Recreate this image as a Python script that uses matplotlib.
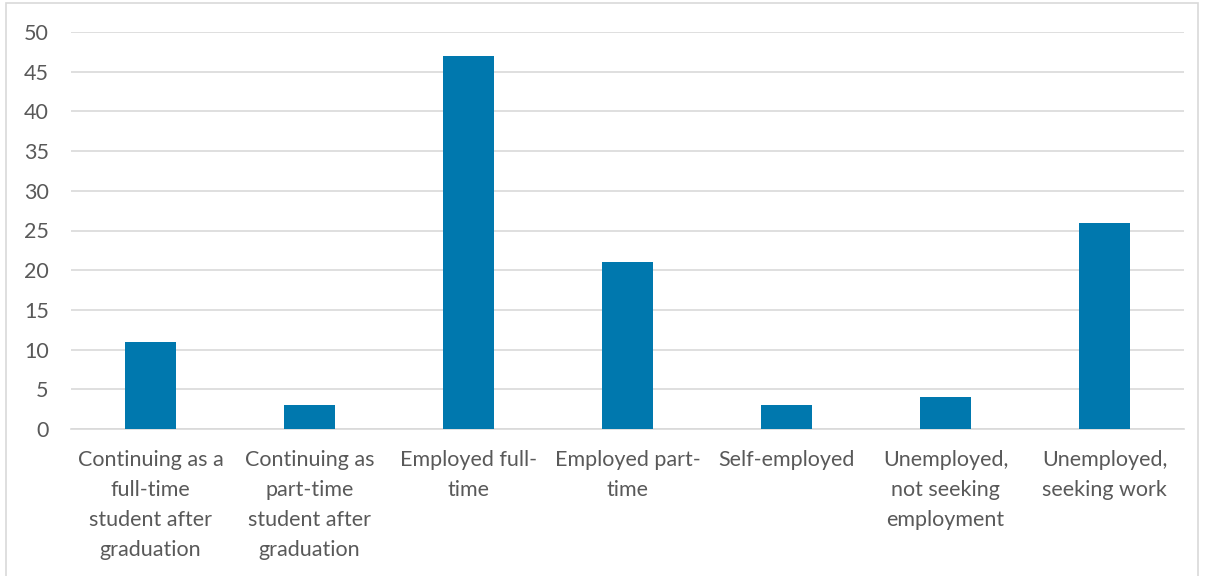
import matplotlib.pyplot as plt
from matplotlib.patches import Rectangle

categories = [
    "Continuing as a\nfull-time\nstudent after\ngraduation",
    "Continuing as\npart-time\nstudent after\ngraduation",
    "Employed full-\ntime",
    "Employed part-\ntime",
    "Self-employed",
    "Unemployed,\nnot seeking\nemployment",
    "Unemployed,\nseeking work",
]
counts = [11, 3, 47, 21, 3, 4, 26]
yticks = [0, 5, 10, 15, 20, 25, 30, 35, 40, 45, 50]

plt.rcParams['font.family'] = ['Lato', 'DejaVu Sans']

fig = plt.figure(figsize=(12.05, 5.76), dpi=100)
ax = fig.add_axes([71 / 1205, 1 - 429 / 576, (1184 - 71) / 1205, (429 - 32) / 576])

ax.bar(range(len(counts)), counts, width=0.315, color='#0078AE', zorder=3)
ax.set_xlim(-0.5, len(counts) - 0.5)
ax.set_ylim(0, 50)
ax.set_yticks(yticks)
ax.set_xticks(range(len(categories)))
ax.set_xticklabels(categories, linespacing=1.62)
ax.tick_params(axis='both', length=0, labelsize=15.5, colors='#595959')
ax.tick_params(axis='x', pad=15)
ax.tick_params(axis='y', pad=16)
ax.grid(axis='y', color='#D9D9D9', linewidth=1.2, zorder=0)
for side in ['top', 'right', 'left']:
    ax.spines[side].set_visible(False)
ax.spines['bottom'].set_color('#D9D9D9')
ax.spines['bottom'].set_linewidth(1.2)

fig.patches.append(Rectangle((6 / 1205, -0.1), 1192 / 1205, 1.1 - 3 / 576,
                             transform=fig.transFigure, fill=False,
                             edgecolor='#D9D9D9', linewidth=1.2))

fig.savefig('out.png', dpi=100)
